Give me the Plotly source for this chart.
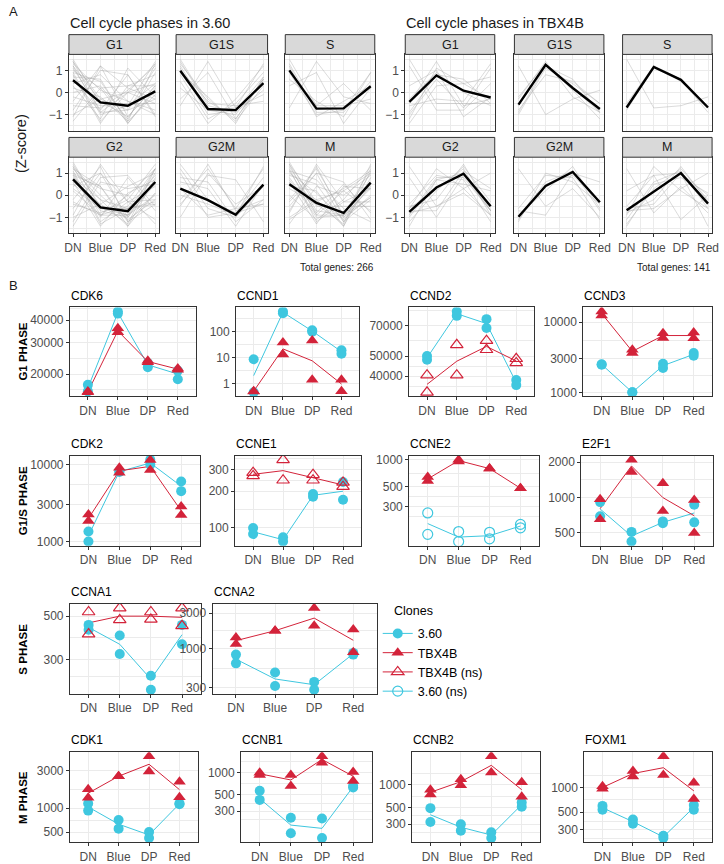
import math
import plotly.graph_objects as go

# ---------------- DATA ----------------
stages = ["DN", "Blue", "DP", "Red"]
phases_A = ["G1", "G1S", "S", "G2", "G2M", "M"]
total_genes = {"3.60": 266, "TBX4B": 141}

# mean Z-score profile (black lines)
mean_z_360 = {
    "G1": [0.55, -0.45, -0.6, 0.05],
    "G1S": [0.98, -0.75, -0.8, 0.42],
    "S": [1.0, -0.73, -0.72, 0.28],
    "G2": [0.72, -0.55, -0.72, 0.6],
    "G2M": [0.3, -0.22, -0.88, 0.48],
    "M": [0.5, -0.35, -0.8, 0.57],
}
mean_z_tbx = {
    "G1": [-0.43, 0.77, 0.08, -0.23],
    "G1S": [-0.55, 1.25, 0.2, -0.75],
    "S": [-0.68, 1.15, 0.57, -0.68],
    "G2": [-0.75, 0.35, 0.97, -0.5],
    "G2M": [-0.97, 0.42, 1.05, -0.32],
    "M": [-0.68, 0.17, 1.0, -0.38],
}

# representative individual gene Z-score profiles (grey lines)
genes_z_360 = {
    "G1": [[1.4, -0.3, -0.8, -0.3], [1.2, -1.0, -0.6, 0.4], [0.9, 0.5, -1.3, -0.1], [-0.4, 1.2, -1.1, 0.3],
           [0.3, -1.2, 1.1, -0.2], [1.5, -0.5, -0.5, -0.5], [-1.3, 0.2, 0.3, 0.8], [0.6, -0.9, -0.8, 1.1],
           [1.0, 0.2, -1.4, 0.2], [-0.2, -0.6, -0.6, 1.4], [0.8, -1.4, 0.3, 0.3], [1.3, 0.1, -0.4, -1.0],
           [-0.8, 1.0, 0.8, -1.0], [0.2, -0.2, -1.3, 1.3], [1.1, -0.8, 0.8, -1.1], [-1.0, -0.3, 0.0, 1.3],
           [0.7, 0.6, -1.4, 0.1], [-1.1, 1.2, 0.2, -0.3], [1.4, -0.9, 0.0, -0.5], [0.0, 0.3, -1.2, 0.9],
           [1.2, -0.4, -1.1, 0.3], [-0.6, -0.7, 0.1, 1.2], [0.9, -1.3, 0.0, 0.4], [0.4, 0.8, -0.4, -0.8]],
    "G1S": [[1.4, -0.6, -0.9, 0.1], [1.1, -1.0, -0.8, 0.7], [0.5, -1.4, -0.3, 1.2], [1.3, -0.3, -1.3, 0.3],
            [-0.6, 1.4, -0.7, -0.1], [1.0, -0.4, -1.2, 0.6], [0.8, -1.2, -0.5, 0.9], [1.5, -0.5, -0.6, -0.4],
            [0.2, -0.8, -0.7, 1.3], [-0.3, 0.9, -1.2, 0.6], [1.2, -0.8, -1.0, 0.6], [0.9, -0.2, -1.4, 0.7]],
    "S": [[1.5, -0.6, -0.6, -0.3], [0.9, -1.0, -0.8, 0.9], [1.2, -1.1, -0.4, 0.3], [0.3, 0.9, -1.4, 0.2],
          [-0.7, 1.4, -0.2, -0.5], [1.3, -0.9, -0.9, 0.5], [0.6, -0.4, -1.1, 0.9], [1.0, -0.6, 0.4, -0.8]],
    "G2": [[1.4, -0.5, -0.9, 0.0], [1.0, -1.3, -0.6, 0.9], [0.5, -0.4, -1.3, 1.2], [-0.2, 1.3, -1.2, 0.1],
           [1.3, -0.9, -0.9, 0.5], [-1.4, 0.6, 0.3, 0.5], [0.9, -1.0, 0.8, -0.7], [0.2, -0.9, -0.5, 1.2],
           [1.2, 0.4, -1.2, -0.4], [-0.6, 1.0, -1.0, 0.6], [0.8, -0.2, -1.4, 0.8], [-1.0, -0.4, 0.4, 1.0],
           [1.1, -1.2, -0.3, 0.4], [0.4, 1.0, -0.3, -1.1], [1.5, -0.6, -0.6, -0.3], [-0.3, -0.9, 0.0, 1.2],
           [0.7, -0.7, -1.0, 1.0], [1.0, 0.3, 0.0, -1.3], [1.3, 0.0, -1.1, -0.2], [-0.9, 1.4, -0.3, -0.2],
           [0.6, -1.4, 0.1, 0.7], [1.2, -0.2, -0.6, -0.4], [-0.4, -0.8, -0.2, 1.4], [0.9, 0.4, -1.4, 0.1],
           [-1.2, 0.8, 0.9, -0.5], [0.3, -0.6, -0.9, 1.2]],
    "G2M": [[1.2, -0.6, -1.0, 0.4], [-0.5, 1.4, -0.7, -0.2], [0.6, 0.3, -1.4, 0.5], [0.3, -0.9, -0.6, 1.2],
            [1.0, -1.0, -0.8, 0.8], [-1.0, 1.0, -0.4, 0.4], [1.4, -0.2, -0.8, -0.4], [0.0, -0.4, -0.9, 1.3],
            [-0.4, 0.9, 0.7, -1.2], [0.8, 0.6, -1.2, -0.2], [-0.2, 1.2, -0.6, -0.4]],
    "M": [[1.4, -0.3, -1.0, -0.1], [0.8, -0.9, -0.9, 1.0], [-0.7, 1.3, -1.0, 0.4], [1.2, -1.2, -0.3, 0.3],
          [0.3, -0.4, -1.3, 1.4], [-1.3, 0.4, 0.0, 0.9], [0.9, 0.5, -1.2, -0.2], [1.1, -0.8, 0.5, -0.8],
          [0.0, -1.1, -0.2, 1.3], [-0.5, 1.0, 0.6, -1.1], [1.5, -0.5, -0.5, -0.5], [0.4, 0.2, -1.4, 0.8],
          [-1.0, -0.2, 0.2, 1.0], [0.6, -1.3, 0.4, 0.3], [1.0, 0.1, -1.1, 0.0], [-0.2, 1.2, -0.9, -0.1],
          [1.3, -0.7, -0.9, 0.3], [-0.8, 1.4, -0.3, -0.3], [0.7, -1.0, -0.9, 1.2], [1.1, 0.7, -0.6, -1.2],
          [-1.1, -0.3, 0.3, 1.1], [0.5, -0.2, -1.4, 1.1], [1.4, -0.9, 0.2, -0.7], [-0.3, 1.0, -1.2, 0.5]],
}
genes_z_tbx = {
    "G1": [[1.5, -0.5, -0.5, -0.5], [-1.2, 1.1, 0.4, -0.3], [-0.5, 1.4, -0.6, -0.3], [1.2, -0.8, -0.8, 0.4],
           [-0.9, 0.8, 0.6, -0.5], [-1.4, 0.3, 0.4, 0.7], [-0.6, -0.3, -0.4, 1.3], [0.3, 1.0, -1.1, -0.2],
           [-0.3, 0.9, 0.0, -0.6], [-1.0, 0.6, -0.7, 1.1]],
    "G1S": [[-0.6, 1.3, 0.2, -0.9], [-0.9, 1.2, 0.6, -0.9], [1.2, -1.0, -0.3, 0.1], [-0.3, 1.4, -0.2, -0.9],
            [-1.0, 1.1, 0.4, -0.5], [-0.2, 1.3, 0.1, -1.2], [-0.8, 0.8, 0.5, -0.5]],
    "S": [[1.5, -0.7, -0.6, -0.2], [-0.7, 1.2, 0.6, -0.7], [-0.8, 1.1, 0.6, -0.9], [-0.5, 1.2, 0.5, -0.6]],
    "G2": [[1.3, -0.5, 0.1, -0.9], [-0.9, 0.8, 0.8, -0.7], [-1.2, 0.2, 1.3, -0.3], [-0.5, -0.2, 1.4, -0.7],
           [-0.6, 1.2, 0.3, -0.9], [-0.7, -0.7, 1.1, 0.3], [-1.0, 0.7, 1.0, -0.7], [0.8, -1.0, 0.9, -0.7],
           [-0.4, 0.9, 0.7, -1.2], [-1.4, 0.7, 0.5, 0.2], [-0.8, -0.5, 0.3, 1.0], [-0.6, 0.3, 1.2, -0.9]],
    "G2M": [[-1.0, 0.6, 1.1, -0.7], [-0.9, 0.2, 1.3, -0.6], [1.2, -0.5, 0.3, -1.0], [-1.2, 1.0, 0.6, -0.4],
            [-0.7, -0.9, 1.0, 0.6], [-1.1, 0.5, 0.9, -0.3], [-0.6, 0.9, 0.8, -1.1]],
    "M": [[-0.5, 0.9, 1.0, -1.4], [-1.3, 0.3, 1.2, -0.2], [1.2, -0.8, 0.4, -0.8], [-0.8, -0.2, 1.3, -0.3],
          [-0.9, 1.3, 0.2, -0.6], [-0.6, -0.4, 1.0, 0.0], [-1.1, 0.6, 1.1, -0.6], [0.2, 0.9, -1.1, 0.0],
          [-0.7, -0.6, 0.3, 1.0], [-1.4, 0.5, 0.8, 0.1]],
}

# Panel B
genes_B = [["CDK6", "CCND1", "CCND2", "CCND3"],
           ["CDK2", "CCNE1", "CCNE2", "E2F1"],
           ["CCNA1", "CCNA2"],
           ["CDK1", "CCNB1", "CCNB2", "FOXM1"]]
row_labels = ["G1 PHASE", "G1/S PHASE", "S PHASE", "M PHASE"]
y_ticks = {
    "CDK6": [20000, 30000, 40000], "CCND1": [1, 10, 100], "CCND2": [40000, 50000, 70000],
    "CCND3": [1000, 3000, 10000], "CDK2": [1000, 3000, 10000], "CCNE1": [100, 200, 300],
    "CCNE2": [300, 500, 1000], "E2F1": [500, 1000, 2000], "CCNA1": [200, 300, 500],
    "CCNA2": [300, 1000, 3000], "CDK1": [500, 1000, 3000], "CCNB1": [300, 500, 1000],
    "CCNB2": [300, 500, 1000], "FOXM1": [300, 500, 1000],
}
# replicate values: DN, DN, Blue, Blue, DP, DP, Red, Red
reps_360 = {
    "CDK6": [17400, 16000, 44700, 43500, 21800, 23000, 18700, 20900],
    "CCND1": [8.6, 0.45, 612, 528, 115, 100, 19.4, 14.1],
    "CCND2": [50000, 48000, 82000, 78100, 75300, 68300, 38300, 36200],
    "CCND3": [2480, 2520, 1000, 1000, 2560, 2230, 3630, 3330],
    "CDK2": [1350, 1000, 8000, 8200, 11560, 10000, 6050, 4520],
    "CCNE1": [100, 89, 83.7, 77.3, 190, 180, 238, 170],
    "CCNE2": [256, 148, 159, 123, 156, 132, 191, 175],
    "E2F1": [915, 692, 510, 422, 627, 604, 869, 615],
    "CCNA1": [451, 426, 398, 320, 248, 210, 451, 359],
    "CCNA2": [835, 637, 481, 316, 359, 281, 835, 880],
    "CDK1": [1148, 935, 710, 553, 500, 420, 1125, 1160],
    "CCNB1": [568, 428, 245, 151, 239, 130, 631, 660],
    "CCNB2": [490, 320, 300, 246, 234, 196, 510, 580],
    "FOXM1": [596, 533, 403, 358, 254, 238, 612, 533],
}
reps_tbx = {
    "CDK6": [16000, 15800, 36000, 34200, 23700, 23300, 21100, 21500],
    "CCND1": [0.49, 0.5, 38.7, 13.3, 46, 1.4, 1.4, 0.5],
    "CCND2": [40400, 33400, 56600, 40400, 59300, 53600, 48500, 46300],
    "CCND3": [14200, 12400, 4030, 3630, 6980, 5950, 7130, 5900],
    "CDK2": [2245, 1846, 9080, 7860, 11500, 8490, 2860, 2210],
    "CCNE1": [284, 267, 362, 246, 273, 246, 236, 218],
    "CCNE2": [643, 581, 1000, 959, 798, 798, 483, 483],
    "E2F1": [968, 655, 2100, 1656, 1328, 767, 955, 500],
    "CCNA1": [525, 405, 550, 478, 525, 481, 550, 446],
    "CCNA2": [1416, 1158, 1748, 1748, 3520, 2030, 1815, 900],
    "CDK1": [1737, 1355, 2543, 2543, 4540, 2918, 2173, 1378],
    "CCNB1": [1000, 929, 929, 662, 1665, 1360, 1020, 773],
    "CCNB2": [861, 743, 1185, 990, 2390, 1459, 1083, 692],
    "FOXM1": [1045, 972, 1615, 1380, 2450, 1435, 1149, 723],
}
# summary lines: DN, Blue, DP, Red
line_360 = {
    "CDK6": [16700, 44000, 22500, 20000], "CCND1": [2.0, 570, 107, 17],
    "CCND2": [49000, 80000, 71700, 37200], "CCND3": [2500, 1000, 2400, 3480],
    "CDK2": [1190, 8100, 10500, 5250], "CCNE1": [93, 80, 185, 200],
    "CCNE2": [195, 138, 143, 183], "E2F1": [800, 470, 615, 740],
    "CCNA1": [438, 359, 238, 402], "CCNA2": [725, 393, 329, 857],
    "CDK1": [1040, 630, 460, 1140], "CCNB1": [445, 195, 176, 645],
    "CCNB2": [400, 273, 215, 545], "FOXM1": [565, 380, 246, 572],
}
line_tbx = {
    "CDK6": [15900, 34800, 23500, 21300], "CCND1": [0.5, 21.7, 7.5, 0.95],
    "CCND2": [36500, 47200, 55600, 47300], "CCND3": [13300, 3830, 6450, 6450],
    "CDK2": [2000, 8300, 9500, 2510], "CCNE1": [275, 295, 258, 225],
    "CCNE2": [612, 980, 798, 483], "E2F1": [805, 1860, 1000, 700],
    "CCNA1": [462, 500, 500, 493], "CCNA2": [1285, 1748, 2580, 1300],
    "CDK1": [1550, 2543, 3600, 1720], "CCNB1": [965, 796, 1510, 895],
    "CCNB2": [795, 1100, 1813, 861], "FOXM1": [1008, 1500, 1770, 915],
}
ns_360 = ["CCNE2"]
ns_tbx = ["CCND2", "CCNE1", "CCNA1"]

# ---------------- STYLE / LAYOUT ----------------
W, H = 724, 864
FONT = "Liberation Sans, Arial, sans-serif"
CYAN = "#3FC7DF"
RED = "#D3233A"
GRID = "#EBEBEB"
BORDER = "#333333"
TICKC = "#4D4D4D"


def fx(px):
    return px / W


def fy(py):
    return 1 - py / H


fig = go.Figure()
layout = dict(width=W, height=H, margin=dict(l=0, r=0, t=0, b=0),
              plot_bgcolor="white", paper_bgcolor="white",
              font=dict(family=FONT, color="#1A1A1A"), showlegend=True)
annotations = []
shapes = []
axis_n = [0]

common = dict(showline=True, mirror=True, linecolor=BORDER, linewidth=1, zeroline=False,
              showgrid=True, gridcolor=GRID, gridwidth=1,
              tickfont=dict(size=12, color=TICKC, family=FONT), fixedrange=True)


def add_axes(x0, x1, y0, y1, xa, ya):
    axis_n[0] += 1
    n = axis_n[0]
    s = "" if n == 1 else str(n)
    layout["xaxis" + s] = dict(common, domain=[fx(x0), fx(x1)], anchor="y" + s, **xa)
    layout["yaxis" + s] = dict(common, domain=[fy(y1), fy(y0)], anchor="x" + s, **ya)
    return "x" + s, "y" + s


def text(x, y, t, size=12, xanchor="left", yanchor="middle", angle=0, color="#1A1A1A", bold=False):
    if bold:
        t = "<b>" + t + "</b>"
    annotations.append(dict(x=fx(x), y=fy(y), xref="paper", yref="paper", text=t, showarrow=False,
                            xanchor=xanchor, yanchor=yanchor, textangle=angle, borderpad=0,
                            font=dict(size=size, color=color, family=FONT)))


# ---------------- PANEL A ----------------
colsA = {"3.60": [(65, 157), (174, 267), (285, 376)],
         "TBX4B": [(407, 498), (518, 609), (628, 719)]}
rowsA = [(52, 129), (156, 233)]
xnum = [1, 2, 3, 4]

text(3, 9, "A", size=13)
text(3, 286, "B", size=13)
text(17, 142, "(Z-score)", size=14.5, xanchor="center", angle=-90)

for clone, means, gz in [("3.60", mean_z_360, genes_z_360), ("TBX4B", mean_z_tbx, genes_z_tbx)]:
    cols = colsA[clone]
    text(cols[0][0], 20, "Cell cycle phases in " + clone, size=14.5)
    text(cols[2][1], 268, "Total genes: %d" % total_genes[clone], size=10, xanchor="right")
    for r in range(2):
        for c in range(3):
            ph = phases_A[r * 3 + c]
            x0, x1 = cols[c]
            y0, y1 = rowsA[r]
            xa = dict(range=[0.85, 4.15], tickvals=xnum, ticktext=stages,
                      showticklabels=(r == 1), ticks="outside" if r == 1 else "",
                      ticklen=3, tickcolor=BORDER,
                      minor=dict(tickvals=[1.5, 2.5, 3.5], showgrid=True, gridcolor=GRID,
                                 gridwidth=0.5, ticks=""))
            ya = dict(range=[-1.72, 1.72], tickvals=[-1, 0, 1], ticktext=["\u22121", "0", "1"],
                      showticklabels=(c == 0), ticks="outside" if c == 0 else "",
                      ticklen=3, tickcolor=BORDER,
                      minor=dict(tickvals=[-1.5, -0.5, 0.5, 1.5], showgrid=True, gridcolor=GRID,
                                 gridwidth=0.5, ticks=""))
            xr, yr = add_axes(x0, x1, y0, y1, xa, ya)
            gx, gy = [], []
            for prof in gz[ph]:
                gx += xnum + [None]
                gy += prof + [None]
            fig.add_trace(go.Scatter(x=gx, y=gy, mode="lines", xaxis=xr, yaxis=yr,
                                     line=dict(color="rgba(165,165,165,0.45)", width=0.9),
                                     showlegend=False, hoverinfo="skip"))
            fig.add_trace(go.Scatter(x=xnum, y=means[ph], mode="lines", xaxis=xr, yaxis=yr,
                                     line=dict(color="black", width=2.4), showlegend=False))
            shapes.append(dict(type="rect", xref="paper", yref="paper",
                               x0=fx(x0), x1=fx(x1), y0=fy(y0), y1=fy(y0 - 20),
                               fillcolor="#D9D9D9", line=dict(color=BORDER, width=1)))
            text((x0 + x1) / 2, y0 - 10, ph, size=12.5, xanchor="center")

# ---------------- PANEL B ----------------
boxesB = [[(66, 194), (235, 360), (411, 538), (588, 719)],
          [(66, 198), (234, 362), (411, 543), (586, 720)],
          [(66, 199), (211, 378)],
          [(66, 196), (240, 373), (414, 544), (589, 719)]]
rowsB = [(308, 398), (458, 549), (608, 699), (758, 849)]
xrep = [1, 1, 2, 2, 3, 3, 4, 4]

for ri, genes in enumerate(genes_B):
    y0, y1 = rowsB[ri]
    text(18, (y0 + y1) / 2, row_labels[ri], size=11.5, xanchor="center", angle=-90, bold=True,
         color="black")
    for ci, g in enumerate(genes):
        x0, x1 = boxesB[ri][ci]
        vals = reps_360[g] + reps_tbx[g] + line_360[g] + line_tbx[g]
        lo = math.log10(min(vals))
        hi = math.log10(max(vals))
        span = hi - lo
        rng = [lo - 0.05 * span, hi + 0.05 * span]
        tv = y_ticks[g]
        lt = [math.log10(v) for v in tv]
        mids = [lt[0] - (lt[1] - lt[0]) / 2] + [(lt[i] + lt[i + 1]) / 2 for i in range(len(lt) - 1)] \
            + [lt[-1] + (lt[-1] - lt[-2]) / 2]
        xa = dict(range=[0.4, 4.6], tickvals=xnum, ticktext=stages, ticks="outside",
                  ticklen=3, tickcolor=BORDER)
        ya = dict(type="log", range=rng, tickvals=tv, ticktext=[str(v) for v in tv],
                  ticks="outside", ticklen=3, tickcolor=BORDER,
                  minor=dict(tickvals=[10 ** m for m in mids], showgrid=True, gridcolor=GRID,
                             gridwidth=0.5, ticks=""))
        xr, yr = add_axes(x0, x1, y0, y1, xa, ya)
        text(x0, y0 - 12, g, size=12, color="black")
        for clone_line, col in [(line_360, CYAN), (line_tbx, RED)]:
            fig.add_trace(go.Scatter(x=xnum, y=clone_line[g], mode="lines", xaxis=xr, yaxis=yr,
                                     line=dict(color=col, width=1), showlegend=False))
        for clone_reps, col, ns_list, sym, msize in [
                (reps_360, CYAN, ns_360, "circle", 10),
                (reps_tbx, RED, ns_tbx, "triangle-up", 11)]:
            is_ns = g in ns_list
            fig.add_trace(go.Scatter(
                x=xrep, y=clone_reps[g], mode="markers", xaxis=xr, yaxis=yr,
                marker=dict(symbol=sym + ("-open" if is_ns else ""), size=msize, color=col,
                            line=dict(color=col, width=1.2 if is_ns else 0)),
                showlegend=False))

# ---------------- LEGEND ----------------
text(395, 615, "Clones", size=12.5, color="black")
for name, col, sym, msize in [("3.60", CYAN, "circle", 10), ("TBX4B", RED, "triangle-up", 11),
                              ("TBX4B (ns)", RED, "triangle-up-open", 11),
                              ("3.60 (ns)", CYAN, "circle-open", 10)]:
    fig.add_trace(go.Scatter(x=[None], y=[None], mode="lines+markers", name=name,
                             line=dict(color=col, width=1),
                             marker=dict(symbol=sym, size=msize, color=col,
                                         line=dict(color=col, width=1.2 if "open" in sym else 0)),
                             xaxis="x", yaxis="y"))

layout["legend"] = dict(x=fx(379), y=fy(623), xanchor="left", yanchor="top",
                        font=dict(size=12.5, color="black", family=FONT), itemwidth=30,
                        bgcolor="rgba(0,0,0,0)", tracegroupgap=0, traceorder="normal")
layout["annotations"] = annotations
layout["shapes"] = shapes
fig.update_layout(**layout)
fig.write_html("out.html", config={"displayModeBar": False},
               post_script="document.body.style.margin='0px';"
                           "document.body.style.overflow='hidden';")
